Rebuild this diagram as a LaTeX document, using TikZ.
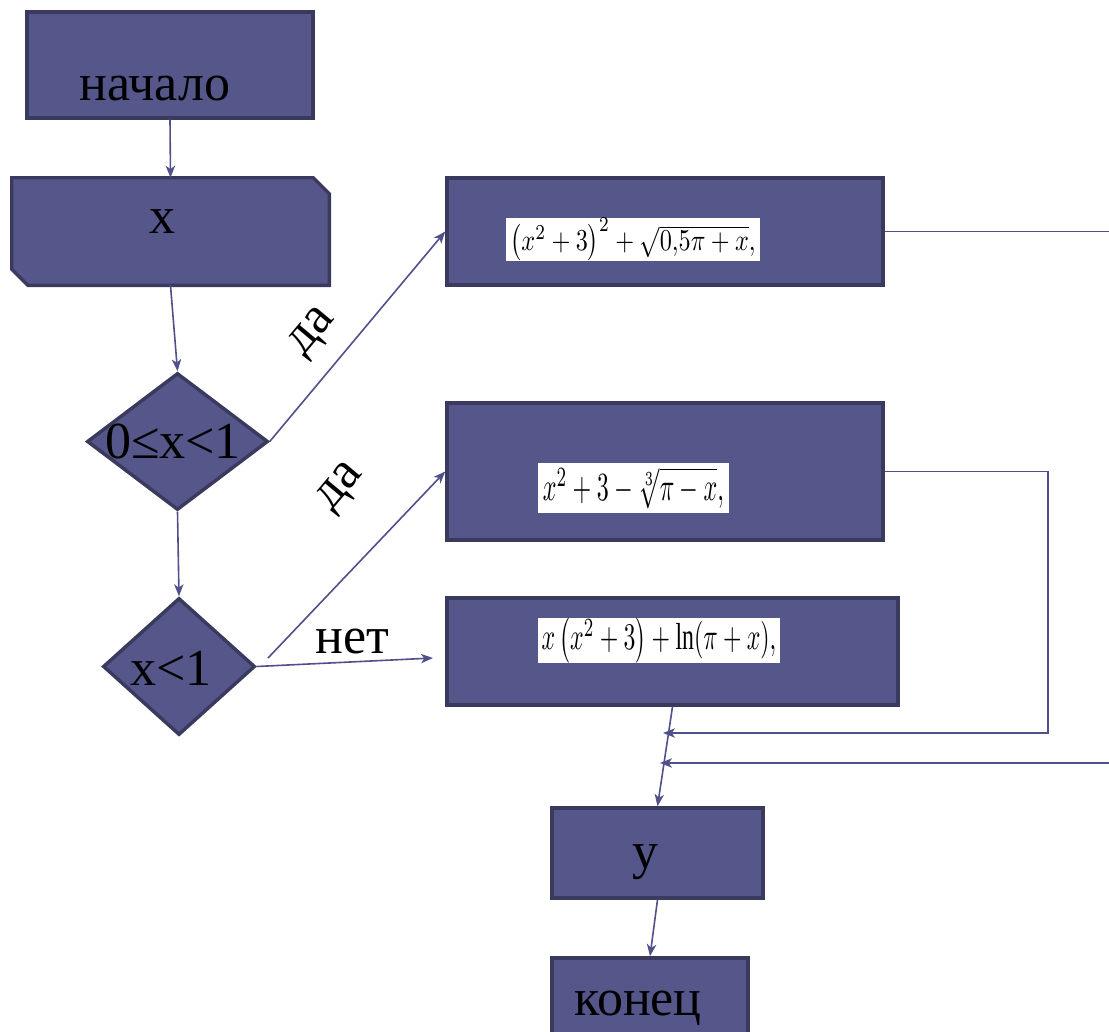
\documentclass[tikz,border=0pt]{standalone}
\usepackage{fontspec}
\setmainfont{Liberation Serif}
\usepackage{graphicx}
\usetikzlibrary{shapes.geometric,arrows.meta,calc}
\definecolor{boxfill}{RGB}{85,86,138}
\definecolor{boxdraw}{RGB}{58,58,94}
\definecolor{linec}{RGB}{80,80,138}
\begin{document}
\begin{tikzpicture}[x=0.75pt,y=-0.75pt,
  blk/.style={draw=boxdraw, fill=boxfill, line width=2.6pt, inner sep=0pt, rectangle},
  blkpath/.style={draw=boxdraw, fill=boxfill, line width=2.6pt, line join=miter},
  conn/.style={draw=linec, line width=1.2pt},
  arr/.style={conn, -{Stealth[length=9pt,width=7pt,inset=2.5pt]}},
  lbl/.style={font=\fontsize{39}{46}\selectfont, text=black, inner sep=0pt, anchor=base},
  frm/.style={fill=white, inner sep=0pt}]
\useasboundingbox (0,0) rectangle (1109,1031);
% blocks
\node[blk, minimum width=214.5pt, minimum height=79.5pt] (start) at (170,65) {};
\node[inner sep=0pt, minimum width=237.75pt, minimum height=80.25pt] (inp) at (170.5,231.5) {};
\draw[blkpath] (inp.north west) -- ($(inp.north east)+(-16,0)$) -- ($(inp.north east)+(0,16)$)
  -- (inp.south east) -- ($(inp.south west)+(16,0)$) -- ($(inp.south west)+(0,-16)$) -- cycle;
\node[blk, diamond, minimum width=135.75pt, minimum height=102.75pt] (d1) at (177.5,441.5) {};
\node[blk, diamond, minimum width=114pt, minimum height=102.75pt] (d2) at (179,666.5) {};
\node[blk, minimum width=327pt, minimum height=80.25pt] (b1) at (665,231.5) {};
\node[blk, minimum width=327pt, minimum height=102.75pt] (b2) at (665,471.5) {};
\node[blk, minimum width=338.25pt, minimum height=80.25pt] (b3) at (672.5,651.5) {};
\node[blk, minimum width=158.25pt, minimum height=67.5pt] (yb) at (657.5,853) {};
\node[blk, minimum width=147pt, minimum height=61.5pt] (endb) at (650,999) {};
% formulas
\node[frm, minimum width=190.5pt, minimum height=27.75pt] (f1) at (633,239.5)
  {\resizebox{184pt}{24pt}{$\left(x^{2}+3\right)^{2}+\sqrt{0{,}5\pi+x},$}};
\node[frm, minimum width=143.25pt, minimum height=37.5pt] (f2) at (633.5,488)
  {\resizebox{136pt}{25pt}{$x^{2}+3-\sqrt[3]{\pi-x},$}};
\node[frm, minimum width=181.5pt, minimum height=30.75pt] (f3) at (659,640.5)
  {\resizebox{176pt}{24pt}{$x\left(x^{2}+3\right)+\ln(\pi+x),$}};
% texts
\node[lbl] (tstart) at (155,100) {начало};
\node[lbl] (tinp) at (162,233) {x};
\node[lbl] (td1) at (173,458) {0≤x<1};
\node[lbl] (td2) at (171,685) {x<1};
\node[lbl] (tno) at (352,653) {нет};
\node[lbl] (ty) at (645,868) {y};
\node[lbl] (tend) at (638,1015) {конец};
\node[lbl, anchor=center, rotate=50] (tyes1) at (314,333) {да};
\node[lbl, anchor=center, rotate=50] (tyes2) at (342,488) {да};
% coordinates
\coordinate (d2o) at (268,658);
\coordinate (noend) at (433,658);
\coordinate (rt1) at (1112,231.5);
\coordinate (c2) at (1048,733);
\coordinate (j1) at (663,733);
\coordinate (rt2) at (1112,763);
\coordinate (j2) at (660,763);
% connectors
\draw[arr] (start.south) -- (inp.north);
\draw[arr] (inp.south) -- (d1.north);
\draw[arr] (d1.east) -- (b1.west);
\draw[arr] (d1.south) -- (d2.north);
\draw[arr] (d2o) -- (b2.west);
\draw[arr] (d2.east) -- (noend);
\draw[conn] (b1.east) -- (rt1);
\draw[arr] (b2.east) -| (c2) -- (j1);
\draw[arr] (rt2) -- (j2);
\draw[arr] (b3.south) -- (yb.north);
\draw[arr] (yb.south) -- (endb.north);
\end{tikzpicture}
\end{document}
